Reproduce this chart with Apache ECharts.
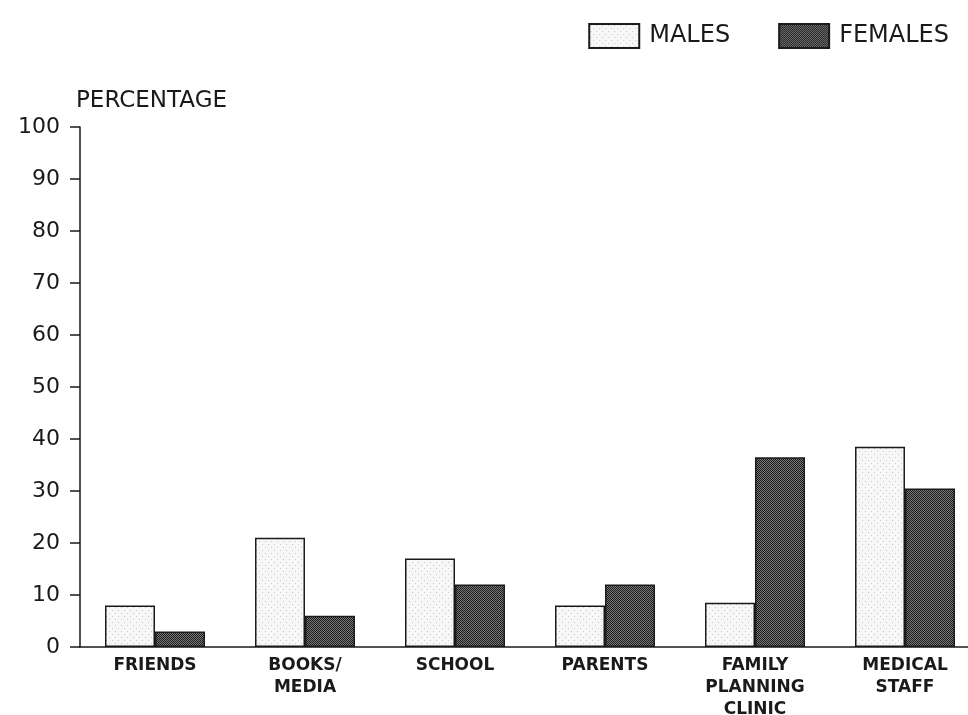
<!DOCTYPE html>
<html>
<head>
<meta charset="utf-8">
<script src="https://cdn.jsdelivr.net/npm/echarts@6/dist/echarts.min.js"></script>
<style>
  html, body { margin: 0; padding: 0; background: #fff; overflow: hidden; }
  #chart { width: 968px; height: 715px; }
</style>
</head>
<body>
<div id="chart"></div>
<script>
var categories = ['FRIENDS', 'BOOKS/\nMEDIA', 'SCHOOL', 'PARENTS', 'FAMILY\nPLANNING\nCLINIC', 'MEDICAL\nSTAFF'];
var males = [8, 21, 17, 8, 8.5, 38.5];
var females = [3, 6, 12, 12, 36.5, 30.5];
var yTicks = [0, 10, 20, 30, 40, 50, 60, 70, 80, 90, 100];

// little fill patterns like the scanned print
function makePattern(kind) {
    var c = document.createElement('canvas');
    var ctx = c.getContext('2d');
    if (kind === 'dots') {
        c.width = 6; c.height = 6;
        ctx.fillStyle = '#f7f7f7';
        ctx.fillRect(0, 0, 6, 6);
        ctx.fillStyle = '#c8c8c8';
        ctx.fillRect(1, 1, 1, 1);
        ctx.fillRect(4, 4, 1, 1);
    } else {
        c.width = 2; c.height = 2;
        ctx.fillStyle = '#7a7a7a';
        ctx.fillRect(0, 0, 2, 2);
        ctx.fillStyle = '#1a1a1a';
        ctx.fillRect(0, 0, 1, 1);
        ctx.fillRect(1, 1, 1, 1);
    }
    return { image: c, repeat: 'repeat' };
}

var chart = echarts.init(document.getElementById('chart'));
var option = {
    animation: false,
    textStyle: { fontFamily: 'DejaVu Sans', color: '#1a1a1a' },
    legend: {
        right: 14,
        top: 18,
        itemWidth: 50,
        itemHeight: 24,
        itemGap: 48,
        icon: 'rect',
        textStyle: { fontSize: 24, color: '#1a1a1a', padding: [0, 0, 0, 5] },
        data: ['MALES', 'FEMALES']
    },
    grid: {
        left: 80,
        top: 127,
        width: 900,
        height: 520,
        containLabel: false,
        outerBoundsMode: 'none'
    },
    xAxis: {
        type: 'category',
        data: categories,
        axisLine: { lineStyle: { color: '#1a1a1a', width: 1.5 } },
        axisTick: { show: false },
        axisLabel: {
            color: '#1a1a1a',
            fontSize: 17,
            fontWeight: 'bold',
            lineHeight: 22,
            margin: 8,
            interval: 0
        }
    },
    yAxis: {
        type: 'value',
        min: 0,
        max: 100,
        interval: 10,
        name: 'PERCENTAGE',
        nameLocation: 'end',
        nameGap: 14,
        nameTextStyle: { fontSize: 23, color: '#1a1a1a', align: 'left', verticalAlign: 'bottom', padding: [0, 0, 0, -4] },
        axisLine: { show: true, lineStyle: { color: '#1a1a1a', width: 1.5 } },
        axisTick: { show: true, length: 10, lineStyle: { color: '#1a1a1a', width: 1.5 } },
        splitLine: { show: false },
        axisLabel: {
            color: '#1a1a1a',
            fontSize: 22,
            margin: 20,
            formatter: function (v) { return yTicks.indexOf(v) >= 0 ? String(v) : ''; }
        }
    },
    series: [
        {
            name: 'MALES',
            type: 'bar',
            barWidth: 50,
            barGap: '0%',
            data: males,
            itemStyle: { color: makePattern('dots'), borderColor: '#1a1a1a', borderWidth: 1.5 }
        },
        {
            name: 'FEMALES',
            type: 'bar',
            barWidth: 50,
            barGap: '0%',
            data: females,
            itemStyle: { color: makePattern('check'), borderColor: '#1a1a1a', borderWidth: 1.5 }
        }
    ]
};
chart.setOption(option);
</script>
</body>
</html>
